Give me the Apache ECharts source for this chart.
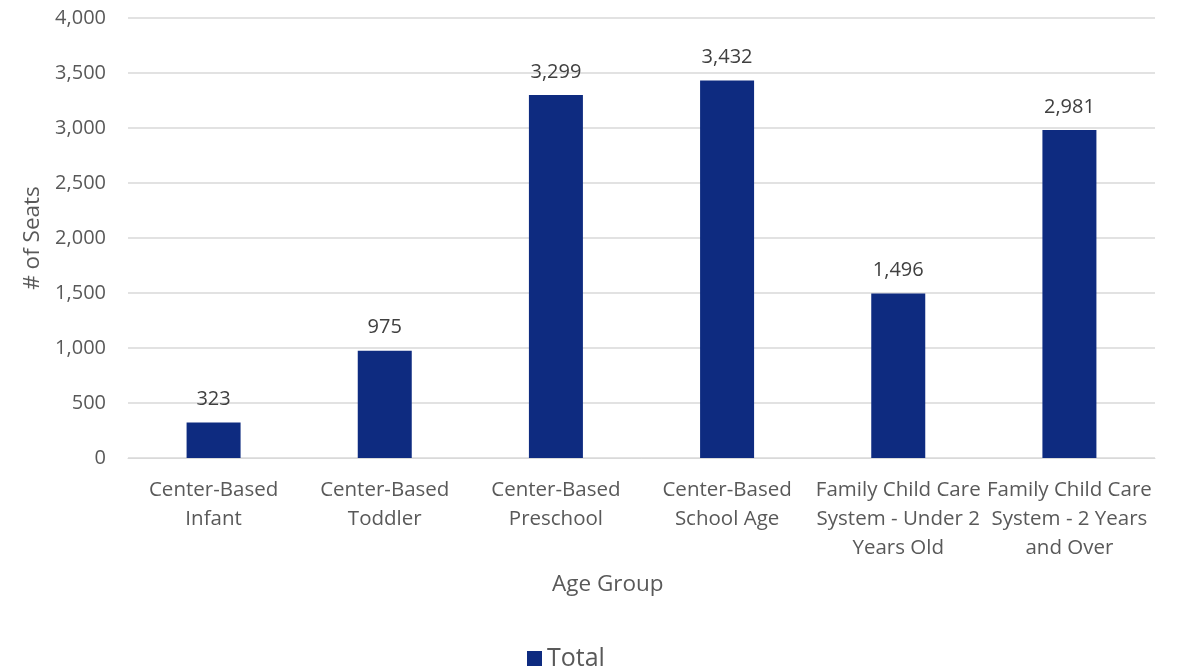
<!DOCTYPE html>
<html><head><meta charset="utf-8">
<script src="https://cdn.jsdelivr.net/npm/echarts@6/dist/echarts.min.js"></script>
<style>html,body{margin:0;padding:0;background:#fff}#c{width:1179px;height:671px}</style>
</head><body><div id="c"></div>
<script>
const categories = ["Center-Based\nInfant","Center-Based\nToddler","Center-Based\nPreschool","Center-Based\nSchool Age","Family Child Care\nSystem - Under 2\nYears Old","Family Child Care\nSystem - 2 Years\nand Over"];
const totals = [323, 975, 3299, 3432, 1496, 2981];
const yTicks = {min: 0, max: 4000, interval: 500};
const font = "'Open Sans', sans-serif";
const chart = echarts.init(document.getElementById('c'));
chart.setOption({
  animation: false,
  grid: {left: 128, right: 24, top: 18, bottom: 213},
  legend: {data: ['Total'], left: 522, top: 641, itemWidth: 15, itemHeight: 15, itemGap: 8,
    icon: 'rect', textStyle: {fontSize: 25, color: '#595959', fontFamily: font}},
  graphic: [
    {type: 'text', left: 552, top: 573, style: {text: 'Age Group', fontSize: 22.5, fill: '#595959', fontFamily: font}}
  ],
  xAxis: {type: 'category', data: categories,
    axisLine: {lineStyle: {color: '#d9d9d9', width: 1}}, axisTick: {show: false},
    axisLabel: {fontSize: 20.5, color: '#595959', fontFamily: font, lineHeight: 29, margin: 18, interval: 0}},
  yAxis: {type: 'value', min: yTicks.min, max: yTicks.max, interval: yTicks.interval,
    name: '# of Seats', nameLocation: 'middle', nameGap: 84, nameRotate: 90,
    nameTextStyle: {fontSize: 22.5, color: '#595959', fontFamily: font},
    axisLine: {show: false}, axisTick: {show: false},
    splitLine: {lineStyle: {color: '#d9d9d9', width: 1.5}},
    axisLabel: {fontSize: 20, color: '#595959', fontFamily: font, margin: 22,
      formatter: v => v.toLocaleString('en-US')}},
  series: [{name: 'Total', type: 'bar', data: totals, barWidth: 54,
    itemStyle: {color: '#0E2B80'},
    label: {show: true, position: 'top', distance: 13, fontSize: 20, color: '#404040', fontFamily: font,
      formatter: p => p.value.toLocaleString('en-US')}}]
});
</script></body></html>
